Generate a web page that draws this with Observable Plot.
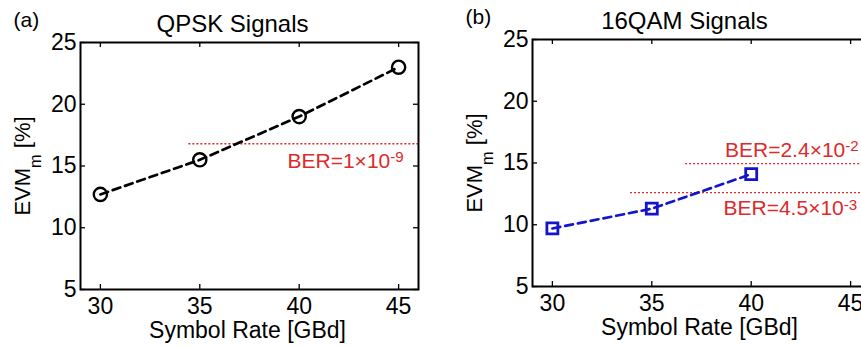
<!DOCTYPE html>
<html>
<head>
<meta charset="utf-8">
<script src="https://cdn.jsdelivr.net/npm/d3@7"></script>
<script src="https://cdn.jsdelivr.net/npm/@observablehq/plot@0.6"></script>
<style>
  html, body { margin: 0; padding: 0; background: #fff; }
  body { position: relative; width: 861px; height: 347px; overflow: hidden; }
  .panel { position: absolute; width: 430px; height: 347px; }
  .panel svg { max-width: none; display: block; }
</style>
</head>
<body>
<div id="panel-a" class="panel" style="left:0px; top:0px"></div>
<div id="panel-b" class="panel" style="left:452px; top:-3px"></div>
<script>
// Symbol rates (GBd) and measured EVM_m (%) for each modulation format
const qpskRates = [30, 35, 40, 45];
const qpskEvm = [12.7, 15.5, 19.0, 23.0];
const qamRates = [30, 35, 40];
const qamEvm = [9.7, 11.3, 14.1];

// BER thresholds expressed as EVM_m limits, with the symbol rate where each dotted line begins
const qpskBerEvm = [16.8];
const qpskBerFrom = [34.45];
const qpskBerText = ["BER=1×10^{-9}"];
const qamBerEvm = [14.95, 12.6];
const qamBerFrom = [36.7, 33.93];
const qamBerText = ["BER=2.4×10^{-2}", "BER=4.5×10^{-3}"];

// Axis settings
const xDomain = [29, 46];
const yDomain = [5, 25];
const xTicks = [30, 35, 40, 45];
const yTicks = [5, 10, 15, 20, 25];

const RED = "#dd2a2a";
const FONT = "'Liberation Sans', Arial, Helvetica, sans-serif";

function panel({rates, evm, color, symbol, r, markWidth, berEvm, berFrom, berText, berDx, berDy, title, tag}) {
  const W = 430, H = 347, ml = 80, mr = 12, mt = 42, mb = 58;
  const pw = W - ml - mr, ph = H - mt - mb;
  const series = rates.map((x, i) => ({x, y: evm[i]}));
  const thresholds = berEvm.map((y, i) => ({y, from: berFrom[i], text: berText[i]}));
  return Plot.plot({
    width: W, height: H,
    marginLeft: ml, marginRight: mr, marginTop: mt, marginBottom: mb,
    style: {fontFamily: FONT, background: "#fff", color: "#000", overflow: "visible"},
    x: {domain: xDomain},
    y: {domain: yDomain},
    marks: [
      Plot.axisX(xTicks, {tickSize: 0, tickPadding: 8, fontSize: 23, label: null}),
      Plot.axisY(yTicks, {tickSize: 0, tickPadding: 4, fontSize: 23, label: null}),
      // inward tick marks on all four sides
      Plot.tickX(xTicks, {x: d => d, insetTop: ph - 5, stroke: "#000", strokeWidth: 1.3}),
      Plot.tickX(xTicks, {x: d => d, insetBottom: ph - 5, stroke: "#000", strokeWidth: 1.3}),
      Plot.tickY(yTicks, {y: d => d, insetRight: pw - 5, stroke: "#000", strokeWidth: 1.3}),
      Plot.tickY(yTicks, {y: d => d, insetLeft: pw - 5, stroke: "#000", strokeWidth: 1.3}),
      // BER limits
      Plot.ruleY(thresholds, {y: "y", x1: "from", x2: xDomain[1], stroke: RED, strokeWidth: 1.4, strokeDasharray: "2,2"}),
      ...thresholds.map((t, i) => Plot.text([t], {
        y: "y", text: "text", frameAnchor: "left", textAnchor: "start",
        dx: berDx[i], dy: berDy[i], lineAnchor: "bottom", fill: RED, fontSize: 21
      })),
      // measured EVM
      Plot.line(series, {x: "x", y: "y", stroke: color, strokeWidth: 2.7, strokeDasharray: "8,5"}),
      Plot.dot(series, {x: "x", y: "y", symbol, r, stroke: color, strokeWidth: markWidth, fill: "none"}),
      Plot.frame({stroke: "#000", strokeWidth: 2}),
      // titles and axis labels
      Plot.text([title], {frameAnchor: "top", textAnchor: "middle", dx: -17, dy: -11, lineAnchor: "bottom", fontSize: 24}),
      Plot.text([tag], {frameAnchor: "top-left", textAnchor: "start", dx: -67, dy: -16, lineAnchor: "bottom", fontSize: 21}),
      Plot.text(["Symbol Rate [GBd]"], {frameAnchor: "bottom", textAnchor: "middle", dx: -2, dy: 48, lineAnchor: "bottom", fontSize: 23}),
      Plot.text(["EVM_{m} [%]"], {frameAnchor: "left", textAnchor: "middle", rotate: -90, dx: -51, lineAnchor: "bottom", fontSize: 22})
    ]
  });
}

// Turn ^{...} and _{...} markup into raised / lowered tspans
function richText(svg) {
  d3.select(svg).selectAll("text").each(function () {
    const s = this.textContent;
    if (!/[\^_]\{/.test(s)) return;
    const fs = parseFloat(getComputedStyle(this).fontSize) || 20;
    const parts = [];
    const re = /([\^_])\{([^}]*)\}/g;
    let last = 0, m;
    while ((m = re.exec(s))) {
      if (m.index > last) parts.push({t: s.slice(last, m.index), k: ""});
      parts.push({t: m[2], k: m[1]});
      last = re.lastIndex;
    }
    if (last < s.length) parts.push({t: s.slice(last), k: ""});
    this.textContent = "";
    this.style.whiteSpace = "pre";
    let offset = 0;
    for (const p of parts) {
      const ts = document.createElementNS("http://www.w3.org/2000/svg", "tspan");
      let target = 0;
      if (p.k === "^") { target = -0.27 * fs; ts.setAttribute("font-size", (0.72 * fs) + "px"); }
      if (p.k === "_") { target = 0.52 * fs; ts.setAttribute("font-size", (0.74 * fs) + "px"); }
      if (target !== offset) ts.setAttribute("dy", (target - offset) + "px");
      offset = target;
      ts.textContent = p.t;
      this.appendChild(ts);
    }
  });
}

const a = panel({
  rates: qpskRates, evm: qpskEvm, color: "#000", symbol: "circle", r: 6.6, markWidth: 2.4,
  berEvm: qpskBerEvm, berFrom: qpskBerFrom, berText: qpskBerText,
  berDx: [207], berDy: [24], title: "QPSK Signals", tag: "(a)"
});
const b = panel({
  rates: qamRates, evm: qamEvm, color: "#1414cc", symbol: "square", r: 6.2, markWidth: 2.8,
  berEvm: qamBerEvm, berFrom: qamBerFrom, berText: qamBerText,
  berDx: [192.5, 191], berDy: [-6.6, 22.7], title: "16QAM Signals", tag: "(b)"
});
document.getElementById("panel-a").appendChild(a);
document.getElementById("panel-b").appendChild(b);
richText(a);
richText(b);
</script>
</body>
</html>
